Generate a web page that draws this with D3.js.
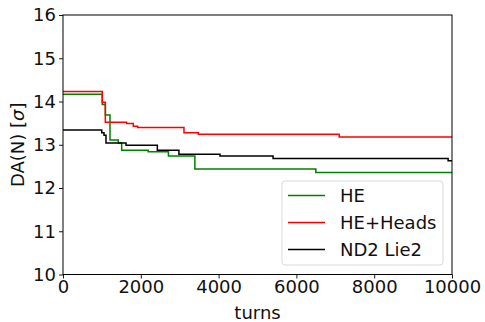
<!DOCTYPE html>
<html><head><meta charset="utf-8">
<script src="https://cdn.jsdelivr.net/npm/d3@7"></script>
<style>body{margin:0;background:#fff}svg{display:block}text{font-family:"DejaVu Sans",sans-serif}</style>
</head><body><svg id="c" width="485" height="322"></svg>
<script>
const seriesNames = ["HE", "HE+Heads", "ND2 Lie2"];
const seriesColors = ["#008000", "#ff0000", "#000000"];
const heTurns   = [0, 1010, 1090, 1208, 1420, 1508, 2190, 2710, 3390, 6500, 10000];
const heValues  = [14.17, 13.93, 13.69, 13.11, 13.04, 12.875, 12.84, 12.74, 12.44, 12.36, 12.36];
const hhTurns   = [0, 1010, 1088, 1636, 1808, 1920, 3110, 3480, 7100, 10000];
const hhValues  = [14.23, 13.98, 13.52, 13.49, 13.43, 13.40, 13.28, 13.24, 13.18, 13.18];
const ndTurns   = [0, 995, 1054, 1105, 1620, 2425, 2980, 4036, 5400, 9900, 10000];
const ndValues  = [13.34, 13.28, 13.22, 13.04, 12.99, 12.875, 12.78, 12.74, 12.68, 12.63, 12.63];
const xTicks = [0, 2000, 4000, 6000, 8000, 10000];
const yTicks = [10, 11, 12, 13, 14, 15, 16];

const svg = d3.select("#c");
const L = 63, R = 452, T = 15, B = 274.5;
const x = d3.scaleLinear().domain([0, 10000]).range([L, R]);
const y = d3.scaleLinear().domain([10, 16]).range([B, T]);

const series = [
  {turns: heTurns, values: heValues},
  {turns: hhTurns, values: hhValues},
  {turns: ndTurns, values: ndValues}
];
const line = d3.line().x(d => x(d[0])).y(d => y(d[1])).curve(d3.curveStepAfter);
series.forEach((s, i) => {
  svg.append("path")
    .datum(s.turns.map((t, k) => [t, s.values[k]]))
    .attr("d", line).attr("fill", "none")
    .attr("stroke", seriesColors[i]).attr("stroke-width", 1.5);
});

const xa = svg.append("g").attr("transform", `translate(0,${B})`)
  .call(d3.axisBottom(x).tickValues(xTicks).tickFormat(d3.format("d")).tickSize(4).tickPadding(2));
const ya = svg.append("g").attr("transform", `translate(${L},0)`)
  .call(d3.axisLeft(y).tickValues(yTicks).tickFormat(d3.format("d")).tickSize(4).tickPadding(3));
[xa, ya].forEach(a => {
  a.select(".domain").remove();
  a.selectAll("line").attr("stroke", "#000").attr("stroke-width", 0.9);
  a.selectAll("text").attr("font-size", 18).attr("fill", "#111");
});

svg.append("rect").attr("x", L).attr("y", T).attr("width", R - L).attr("height", B - T)
  .attr("fill", "none").attr("stroke", "#000").attr("stroke-width", 1);

svg.append("text").attr("x", (L + R) / 2).attr("y", 319).attr("text-anchor", "middle")
  .attr("font-size", 18).attr("fill", "#111").text("turns");
const yl = svg.append("text").attr("transform", `translate(24,${(T + B) / 2}) rotate(-90)`)
  .attr("text-anchor", "middle").attr("font-size", 18).attr("fill", "#111");
yl.append("tspan").text("DA(N) [");
yl.append("tspan").attr("font-style", "italic").text("σ");
yl.append("tspan").text("]");

const lg = svg.append("g");
lg.append("rect").attr("x", 282).attr("y", 181).attr("width", 161).attr("height", 84)
  .attr("rx", 3).attr("fill", "#fff").attr("fill-opacity", 0.8).attr("stroke", "#d9d9d9");
seriesNames.forEach((n, i) => {
  const cy = 195.5 + i * 27;
  lg.append("line").attr("x1", 288).attr("x2", 325).attr("y1", cy).attr("y2", cy)
    .attr("stroke", seriesColors[i]).attr("stroke-width", 1.5);
  lg.append("text").attr("x", 340).attr("y", cy).attr("dy", "0.35em")
    .attr("font-size", 18).attr("fill", "#111").text(n);
});
</script></body></html>
